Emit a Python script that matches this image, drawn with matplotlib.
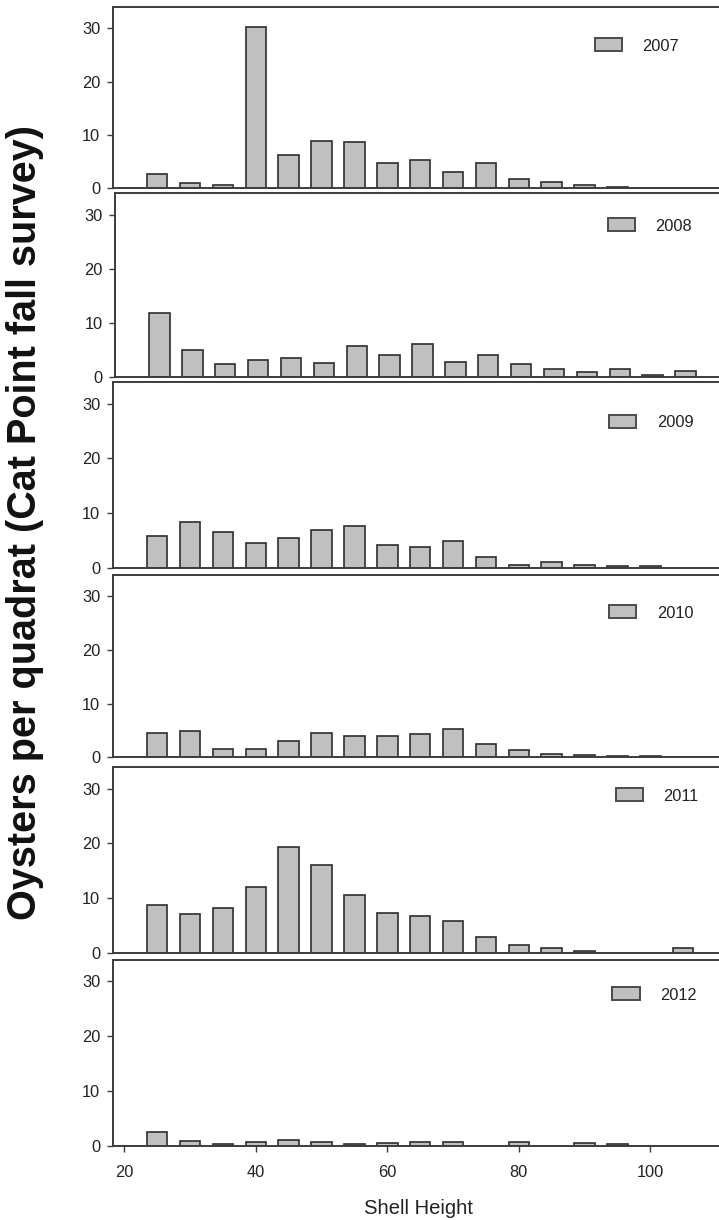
import matplotlib
matplotlib.use('Agg')
import matplotlib.pyplot as plt
from matplotlib.patches import Patch
import numpy as np

# ---------------- data ----------------
shell_height = [25, 30, 35, 40, 45, 50, 55, 60, 65, 70, 75, 80, 85, 90, 95, 100, 105]
years = ['2007', '2008', '2009', '2010', '2011', '2012']

counts_2007 = [2.75, 1.06, 0.6, 30.3, 6.3, 8.9, 8.7, 4.8, 5.25, 3.06, 4.8, 1.7, 1.25, 0.6, 0.3, 0, 0]
counts_2008 = [11.7, 5.0, 2.35, 3.15, 3.4, 2.5, 5.6, 4.1, 6.0, 2.7, 4.1, 2.3, 1.5, 0.8, 1.4, 0.4, 1.05]
counts_2009 = [5.85, 8.4, 6.6, 4.6, 5.5, 6.9, 7.55, 4.1, 3.8, 4.9, 2.0, 0.5, 1.1, 0.5, 0.35, 0.35, 0]
counts_2010 = [4.5, 4.9, 1.56, 1.56, 3.06, 4.6, 3.9, 4.0, 4.4, 5.2, 2.4, 1.4, 0.6, 0.45, 0.2, 0.25, 0]
counts_2011 = [8.8, 7.0, 8.15, 12.0, 19.3, 16.0, 10.5, 7.35, 6.7, 5.8, 2.9, 1.45, 0.9, 0.3, 0, 0, 0.85]
counts_2012 = [2.5, 0.97, 0.43, 0.8, 1.1, 0.8, 0.43, 0.5, 0.8, 0.67, 0, 0.73, 0, 0.5, 0.43, 0, 0]

all_counts = [counts_2007, counts_2008, counts_2009, counts_2010, counts_2011, counts_2012]
y_ticks = [0, 10, 20, 30]
x_ticks = [20, 40, 60, 80, 100]

# ---------------- layout (pixels) ----------------
W, H = 719, 1220
fig = plt.figure(figsize=(W / 100, H / 100), dpi=100)
fig.patch.set_facecolor('white')

panel_px = [(7, 188.3), (193, 376.7), (382, 567.7), (575, 757.3), (767, 952.7), (959.5, 1146)]
panel_shift = [0, 2.3, 0, 0, 0, 0]
legend_px = [(594.5, 46), (607.5, 226), (608.7, 422.7), (608.7, 613), (615.5, 796), (612, 995)]
left_px, right_px = 113, 725
x_left_val = 18.28
px_per_unit = 6.575
x_right_val = x_left_val + (right_px - left_px) / px_per_unit

fill = '#c0c0c0'
edge = '#2e2e2e'
spine_col = '#3c3c3c'
text_col = '#222222'
tick_fs = 11.8

axes = []
for i, (counts, yr) in enumerate(zip(all_counts, years)):
    top, bot = panel_px[i]
    lp = left_px + panel_shift[i]
    ax = fig.add_axes([lp / W, 1 - bot / H, (right_px - left_px) / W, (bot - top) / H])
    axes.append(ax)
    xs = [x for x, c in zip(shell_height, counts) if c > 0]
    cs = [c for c in counts if c > 0]
    ax.bar(xs, cs, width=3.1, color=fill, edgecolor=edge, linewidth=1.2, zorder=2)
    ax.set_xlim(x_left_val, x_right_val)
    ax.set_ylim(0, 34)
    ax.set_yticks(y_ticks)
    ax.tick_params(axis='y', direction='out', length=4.3, width=1.0, color=spine_col,
                   labelsize=tick_fs, labelcolor=text_col, pad=5)
    for s in ax.spines.values():
        s.set_color(spine_col)
        s.set_linewidth(1.4)
    ax.spines['right'].set_visible(False)
    if i < 5:
        ax.set_xticks([])
    else:
        ax.set_xticks(x_ticks)
        ax.tick_params(axis='x', direction='out', length=4.3, width=1.0, color=spine_col,
                       labelsize=tick_fs, labelcolor=text_col, pad=9.7)
    for lab in ax.get_xticklabels() + ax.get_yticklabels():
        lab.set_family(['Liberation Sans', 'DejaVu Sans'])
    lx, ly = legend_px[i]
    ax.legend(handles=[Patch(facecolor=fill, edgecolor='#4a4a4a', linewidth=1.4)], labels=[yr],
              loc='center left', bbox_to_anchor=(lx / W, 1 - ly / H), bbox_transform=fig.transFigure,
              frameon=False, borderpad=0, borderaxespad=0,
              handlelength=1.68, handleheight=0.85, handletextpad=1.25,
              prop={'family': ['Liberation Sans', 'DejaVu Sans'], 'size': tick_fs},
              labelcolor=text_col)

ax_b = axes[-1]
ax_b.set_xlabel('Shell Height', fontsize=14.6, color=text_col,
                family=['Liberation Sans', 'DejaVu Sans'])
ax_b.xaxis.set_label_coords((419 - left_px) / (right_px - left_px), -(1208 - 1146) / (1146 - 959.5))
ax_b.xaxis.label.set_va('center')

fig.text(25 / W, 1 - 522 / H, 'Oysters per quadrat (Cat Point fall survey)', rotation=90,
         ha='center', va='center', fontsize=28.5, fontweight='bold', color='#111111',
         family=['Liberation Sans', 'DejaVu Sans'])

fig.savefig('out.png', dpi=100, facecolor='white')
